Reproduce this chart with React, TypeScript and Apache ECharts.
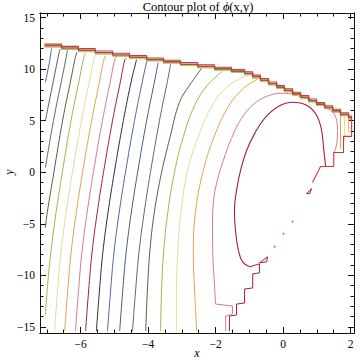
import React, { useEffect, useRef } from 'react';
import * as echarts from 'echarts';

// ---------- axis ranges & ticks ----------
const xRange = [-7.2, 2.1];
const yRange = [-15.6, 15.45];
const xMajorTicks = [-6, -4, -2, 0, 2];
const xMinorTicks = [-7, -6.5, -5.5, -5, -4.5, -3.5, -3, -2.5, -1.5, -1, -0.5, 0.5, 1, 1.5];
const yMajorTicks = [-15, -10, -5, 0, 5, 10, 15];
const yMinorTicks = [-14, -13, -12, -11, -9, -8, -7, -6, -4, -3, -2, -1, 1, 2, 3, 4, 6, 7, 8, 9, 11, 12, 13, 14];

// ---------- contour lines, lowest level first ----------
// lines that enter through the left edge of the domain
const edgeEntryLines: number[][][] = [
  [[-7.04, 8.73], [-6.91, 10.88], [-6.86, 12.04]],
  [[-7.04, 5.03], [-6.8, 8.93], [-6.68, 10.88], [-6.61, 11.95]],
  [[-7.04, 0.46], [-6.8, 5.03], [-6.56, 8.93], [-6.44, 10.88], [-6.39, 11.85]],
  [[-7.04, -5.38], [-6.99, -4.02], [-6.79, -0.03], [-6.53, 5.03], [-6.29, 8.93], [-6.17, 10.88], [-6.11, 11.65]],
  [[-7.04, -13.86], [-6.99, -11.52], [-6.88, -7.82], [-6.73, -4.02], [-6.54, -0.03], [-6.28, 5.03], [-6.04, 8.93], [-5.92, 10.88], [-5.86, 11.56]],
];
// lines that start at the bottom edge
const bottomLines: number[][][] = [
  [[-6.77, -15.41], [-6.68, -11.52], [-6.58, -7.82], [-6.43, -4.02], [-6.24, -0.03], [-5.97, 5.03], [-5.73, 8.93], [-5.61, 10.88], [-5.55, 11.46]],
  [[-6.47, -15.41], [-6.38, -11.52], [-6.28, -7.82], [-6.13, -4.02], [-5.94, -0.03], [-5.67, 5.03], [-5.43, 8.93], [-5.31, 10.88], [-5.25, 11.32]],
  [[-6.15, -15.41], [-6.06, -11.52], [-5.96, -7.82], [-5.81, -4.02], [-5.62, -0.03], [-5.35, 5.03], [-5.11, 8.93], [-4.99, 10.88], [-4.94, 11.19]],
  [[-5.85, -15.41], [-5.76, -11.52], [-5.66, -7.82], [-5.51, -4.02], [-5.32, -0.03], [-5.05, 5.03], [-4.81, 8.93], [-4.69, 10.88], [-4.64, 11.05]],
  [[-5.53, -15.41], [-5.44, -11.52], [-5.34, -7.82], [-5.19, -4.02], [-5.0, -0.03], [-4.73, 5.03], [-4.49, 8.93], [-4.34, 10.92]],
  [[-5.2, -15.41], [-5.11, -11.52], [-5.01, -7.82], [-4.86, -4.02], [-4.67, -0.03], [-4.4, 5.03], [-4.16, 8.93], [-4.04, 10.78]],
  [[-4.84, -15.41], [-4.75, -11.52], [-4.65, -7.82], [-4.5, -4.02], [-4.31, -0.03], [-4.04, 5.03], [-3.8, 8.93], [-3.7, 10.63]],
  [[-4.46, -15.41], [-4.37, -11.52], [-4.27, -7.82], [-4.12, -4.02], [-3.93, -0.03], [-3.66, 5.03], [-3.42, 8.93], [-3.33, 10.49]],
  [[-4.07, -15.41], [-4.02, -11.52], [-3.95, -7.82], [-3.82, -4.02], [-3.6, -0.03], [-3.35, 3.38], [-3.07, 6.79], [-2.77, 8.44], [-2.41, 10.1]],
  [[-3.63, -15.41], [-3.6, -11.52], [-3.54, -7.82], [-3.42, -4.02], [-3.22, -0.03], [-2.96, 3.38], [-2.62, 6.49], [-2.24, 8.44], [-1.79, 9.81]],
  [[-3.16, -15.41], [-3.16, -11.52], [-3.12, -7.82], [-3.03, -4.02], [-2.84, -0.03], [-2.52, 3.38], [-2.1, 6.49], [-1.6, 8.44], [-0.99, 9.51]],
  [[-2.56, -15.41], [-2.62, -11.52], [-2.66, -7.82], [-2.6, -4.02], [-2.38, -0.03], [-2.05, 3.38], [-1.6, 6.49], [-1.17, 8.15], [-0.76, 9.02]],
];
// outer (pink) loop: stepped foot + smooth arc
const outerLoopSteps: number[][] = [
  [-1.7, -15.41], [-1.7, -13.96], [-1.5, -13.76], [-1.5, -12.98], [-2.0, -12.79],
];
const outerLoopCurve: number[][] = [
  [-2.0, -12.79], [-2.03, -11.03], [-2.08, -8.11], [-2.09, -5.19], [-2.06, -2.75], [-1.95, -0.81], [-1.77, 1.14],
  [-1.53, 3.28], [-1.23, 5.23], [-0.84, 6.69], [-0.4, 7.47], [0.04, 7.66], [0.49, 7.37], [0.93, 6.88],
  [1.32, 6.2], [1.56, 5.33], [1.61, 4.06], [1.59, 2.79], [1.5, 1.82],
];
// inner (dark red) loop: stepped foot + smooth arc
const innerLoopSteps: number[][] = [
  [-1.59, -15.41], [-1.59, -13.96], [-1.38, -13.86], [-1.38, -12.79], [-1.14, -12.69], [-1.14, -11.33], [-0.9, -11.23],
  [-0.9, -9.86], [-0.7, -9.77], [-0.7, -8.89], [-0.99, -9.18],
];
const innerLoopCurve: number[][] = [
  [-0.99, -9.18], [-1.2, -8.7], [-1.32, -7.62], [-1.41, -5.68], [-1.44, -3.73], [-1.38, -1.78], [-1.26, 0.17],
  [-1.08, 2.11], [-0.84, 3.77], [-0.55, 5.23], [-0.13, 6.4], [0.28, 6.79], [0.7, 6.49], [0.99, 5.52],
  [1.14, 4.06], [1.2, 2.31], [1.26, 0.55],
];

// jagged edge of the domain (step corners)
const topStepX = [-7.07, -6.56, -6.06, -5.56, -5.05, -4.55, -4.04, -3.54, -3.04, -2.53, -2.03, -1.53, -1.14, -0.9, -0.67, -0.43, -0.19, 0.04, 0.28, 0.52, 0.76, 0.99, 1.23, 1.47, 1.7, 1.94, 2.03];
const topStepY = [12.43, 12.21, 11.99, 11.76, 11.54, 11.31, 11.09, 10.87, 10.64, 10.42, 10.19, 9.97, 9.75, 9.42, 9.08, 8.75, 8.42, 8.09, 7.76, 7.43, 7.1, 6.77, 6.44, 6.11, 5.77, 5.44, 5.44];
const rightEdge: number[][] = [[2.03, 5.44], [2.03, 3.48], [1.79, 3.48], [1.79, 1.92], [1.5, 1.92], [1.5, 0.56], [1.11, 0.56], [0.87, -1.0], [1.08, 0.36]];
const rightEdgeOrange: number[][] = [[1.7, 5.81], [1.7, 2.31]];
const rightEdgePale: number[][] = [[1.82, 5.62], [1.82, 3.09]];
const rightEdgeYellow: number[][] = [[1.94, 5.42], [1.94, 3.87]];

// small isolated fragments
const fragmentA: number[][] = [[-0.7, -8.79], [-0.46, -8.21], [-0.49, -8.7], [-0.7, -8.79]];
const fragmentB: number[][] = [[0.7, -2.07], [0.84, -1.59], [0.79, -2.07], [0.7, -2.07]];
const specks: number[][] = [[-0.25, -7.23], [0.28, -4.8], [0.01, -5.97]];

const palette = ['#a4b24a', '#e3d996', '#e2a24f', '#d47a8e', '#a3203c', '#2f2c3a', '#4e66a3', '#4d5b78', '#5c686c', '#56613f'];

const serif = '"Liberation Serif", "DejaVu Serif", serif';

function stairs(xs: number[], ys: number[], dy: number): number[][] {
  const pts: number[][] = [];
  for (let i = 0; i < xs.length; i++) {
    pts.push([xs[i], ys[i] - dy]);
    if (i + 1 < xs.length) pts.push([xs[i + 1], ys[i] - dy]);
  }
  return pts;
}

const fmt = (v: number) => (v < 0 ? '\u2212' + Math.abs(v) : String(v));

function axis(kind: 'x' | 'y', position: string, ticks: number[], len: number, labels: boolean) {
  const range = kind === 'x' ? xRange : yRange;
  return {
    type: 'value',
    min: range[0],
    max: range[1],
    position,
    gridIndex: 0,
    axisLine: { show: true, onZero: false, lineStyle: { color: '#111', width: 1 } },
    axisTick: { show: true, inside: true, length: len, customValues: ticks, lineStyle: { color: '#111', width: 1 } },
    axisLabel: labels
      ? { show: true, customValues: ticks, formatter: fmt, margin: 5, fontFamily: serif, fontSize: 11.5, color: '#000' }
      : { show: false },
    splitLine: { show: false },
  };
}

export default function App() {
  const ref = useRef<HTMLDivElement>(null);
  useEffect(() => {
    if (!ref.current) return;
    const chart = echarts.init(ref.current, null, { renderer: 'svg' });
    const familyLines = [...edgeEntryLines, ...bottomLines];
    const series: any[] = familyLines.map((pts, i) => ({
      type: 'line',
      data: pts,
      symbol: 'none',
      silent: true,
      smooth: 0.4,
      lineStyle: { color: palette[(i + 6) % 10], width: 1 },
      z: 2,
    }));
    const lineSeries = (pts: number[][], color: string, width: number, z = 3, smooth: any = false) => ({
      type: 'line', data: pts, symbol: 'none', silent: true, smooth, lineStyle: { color, width }, z,
    });
    const outerColor = palette[(familyLines.length + 6) % 10];
    const innerColor = palette[(familyLines.length + 7) % 10];
    series.push(lineSeries(outerLoopSteps, outerColor, 1, 2));
    series.push(lineSeries(outerLoopCurve, outerColor, 1, 2, 0.4));
    series.push(lineSeries(innerLoopSteps, innerColor, 1, 2));
    series.push(lineSeries(innerLoopCurve, innerColor, 1.1, 2, 0.4));
    series.push(lineSeries(stairs(topStepX, topStepY, 0.3), '#e4a552', 1, 3));
    series.push(lineSeries(stairs(topStepX, topStepY, 0.16), '#7d6a38', 1.6, 4));
    series.push(lineSeries([...stairs(topStepX, topStepY, 0), ...rightEdge], '#d8343c', 1.1, 5));
    series.push(lineSeries(rightEdgeOrange, '#e2a24f', 1, 3));
    series.push(lineSeries(rightEdgePale, '#e9dc8a', 1, 3));
    series.push(lineSeries(rightEdgeYellow, '#e8b84a', 1, 3));
    series.push(lineSeries(fragmentA, innerColor, 1, 3));
    series.push(lineSeries(fragmentB, innerColor, 1, 3));
    series.push({
      type: 'scatter', data: specks, symbol: 'circle', symbolSize: 2, silent: true,
      itemStyle: { color: '#b05a6a' }, z: 3,
    });

    chart.setOption({
      animation: false,
      backgroundColor: '#fff',
      title: {
        text: '{a|Contour plot of }{b|\u03d5}{a|(x,y)}',
        left: 198,
        top: 0,
        textAlign: 'center',
        padding: 0,
        textStyle: {
          fontWeight: 'normal',
          rich: {
            a: { fontFamily: serif, fontSize: 12.5, fontWeight: 'normal', color: '#000' },
            b: { fontFamily: serif, fontSize: 12.5, fontWeight: 'normal', fontStyle: 'italic', color: '#000' },
          },
        },
      },
      grid: { left: 40, right: 6, top: 13, bottom: 31, containLabel: false },
      xAxis: [
        axis('x', 'bottom', xMajorTicks, 6, true),
        axis('x', 'bottom', xMinorTicks, 3.5, false),
        axis('x', 'top', xMajorTicks, 6, false),
        axis('x', 'top', xMinorTicks, 3.5, false),
      ],
      yAxis: [
        axis('y', 'left', yMajorTicks, 6, true),
        axis('y', 'left', yMinorTicks, 3.5, false),
        axis('y', 'right', yMajorTicks, 6, false),
        axis('y', 'right', yMinorTicks, 3.5, false),
      ],
      graphic: [
        { type: 'text', x: 197, y: 353, style: { text: 'x', font: `italic 12px ${serif}`, fill: '#000', textAlign: 'center', textVerticalAlign: 'middle' } },
        { type: 'text', x: 9, y: 172, rotation: Math.PI / 2, style: { text: 'y', font: `italic 12px ${serif}`, fill: '#000', textAlign: 'center', textVerticalAlign: 'middle' } },
      ],
      series,
    });
    return () => chart.dispose();
  }, []);
  return <div ref={ref} style={{ position: 'fixed', left: 0, top: 0, width: 360, height: 364 }} />;
}
